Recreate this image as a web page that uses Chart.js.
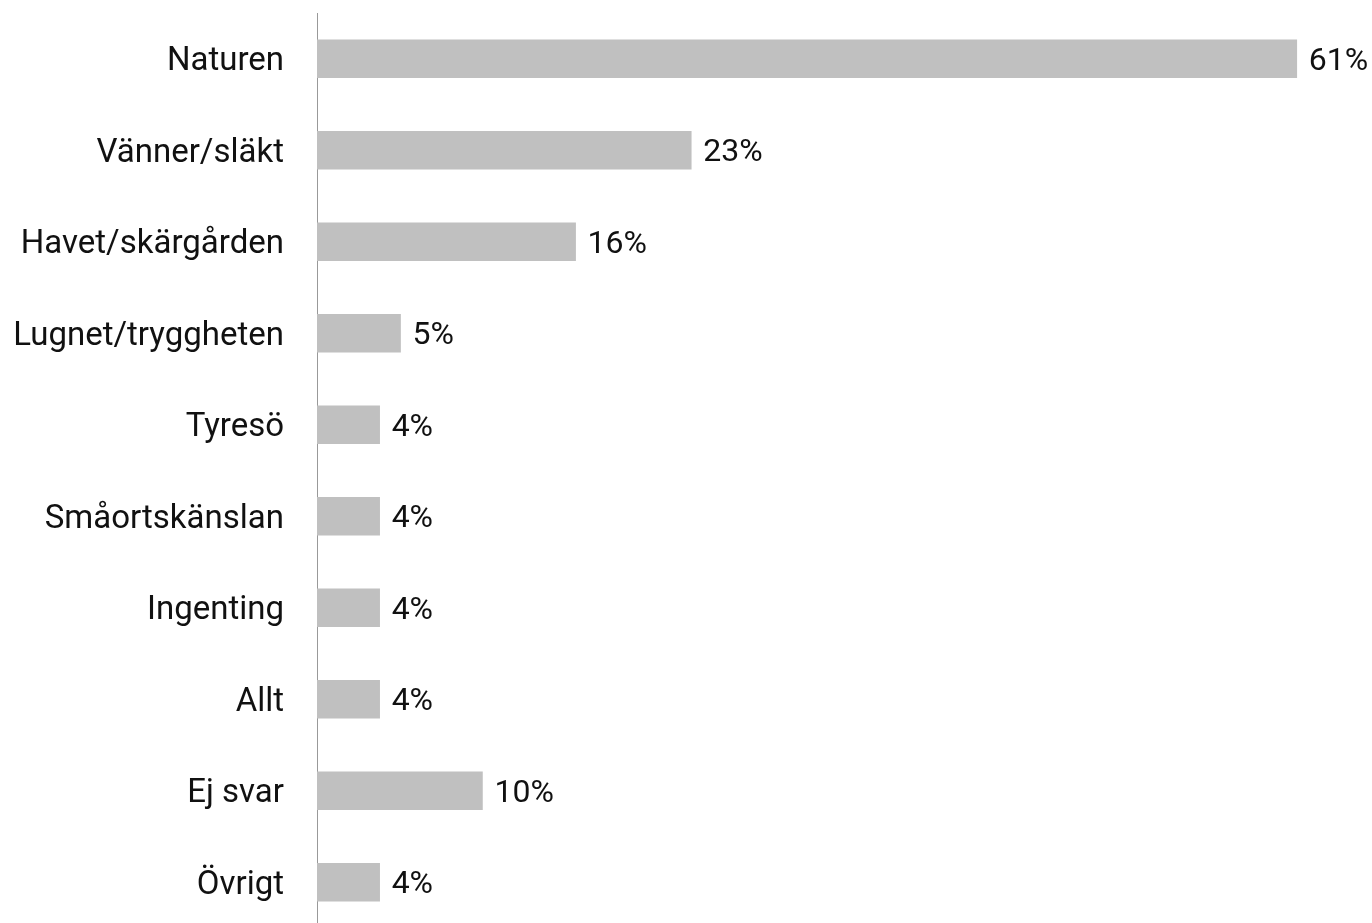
<!DOCTYPE html>
<html>
<head>
<meta charset="utf-8">
<script src="https://cdn.jsdelivr.net/npm/chart.js@4/dist/chart.umd.min.js"></script>
<style>
  html, body { margin: 0; padding: 0; background: #fff; overflow: hidden; }
  #wrap { width: 1372px; height: 928px; }
</style>
</head>
<body>
<div id="wrap"><canvas id="barChart"></canvas></div>
<script>
// kategorier och andelar (%)
const categories = ["Naturen", "Vänner/släkt", "Havet/skärgården", "Lugnet/tryggheten", "Tyresö", "Småortskänslan", "Ingenting", "Allt", "Ej svar", "Övrigt"];
const values = [61, 23.3, 16.1, 5.2, 3.9, 3.9, 3.9, 3.9, 10.3, 3.9];
const valueLabels = ["61%", "23%", "16%", "5%", "4%", "4%", "4%", "4%", "10%", "4%"];

// skriv procent efter varje stapel
const valueLabelPlugin = {
  id: "valueLabels",
  afterDatasetsDraw(chart) {
    const ctx = chart.ctx;
    const meta = chart.getDatasetMeta(0);
    ctx.save();
    ctx.font = "32px Roboto";
    ctx.fillStyle = "#111";
    ctx.textAlign = "left";
    ctx.textBaseline = "middle";
    meta.data.forEach((bar, i) => {
      ctx.fillText(valueLabels[i], bar.x + 12, bar.y + 3);
    });
    ctx.restore();
  },
};

const config = {
  type: "bar",
  data: {
    labels: categories,
    datasets: [
      {
        data: values,
        backgroundColor: "#c0c0c0",
        borderWidth: 0,
        barThickness: 38,
      },
    ],
  },
  options: {
    indexAxis: "y",
    responsive: true,
    maintainAspectRatio: false,
    animation: false,
    layout: { padding: { top: 13, right: 11, bottom: 0, left: 0 } },
    plugins: {
      legend: { display: false },
      tooltip: { enabled: false },
    },
    scales: {
      x: {
        display: false,
        min: 0,
        max: 65,
      },
      y: {
        afterFit(scale) {
          scale.width = 317;
          scale.paddingTop = 0;
          scale.paddingBottom = 0;
        },
        grid: { display: false, drawTicks: false },
        border: { display: true, color: "#999", width: 1 },
        ticks: {
          color: "#111",
          padding: 33,
          labelOffset: 3,
          font: { family: "Roboto", size: 33 },
        },
      },
    },
  },
  plugins: [valueLabelPlugin],
};

const barChart = new Chart(document.getElementById("barChart"), config);
</script>
</body>
</html>
